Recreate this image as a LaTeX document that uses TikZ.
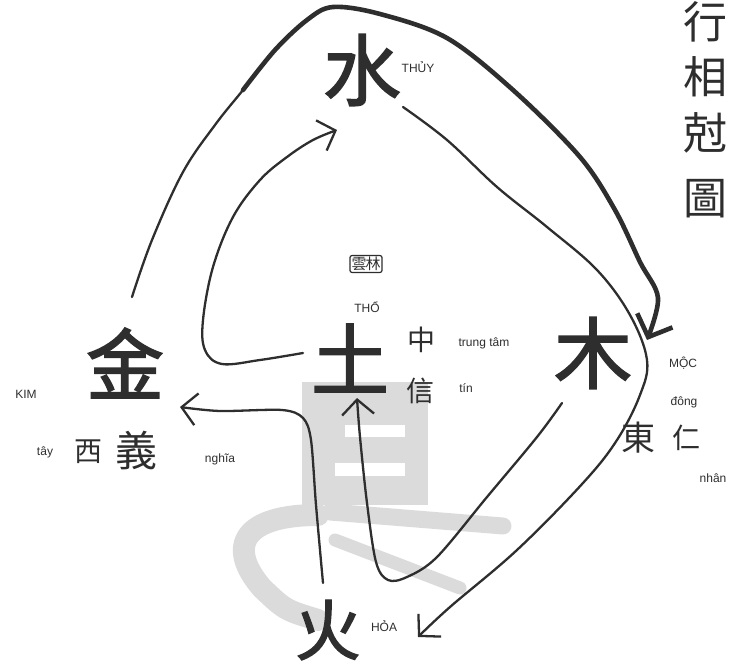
\documentclass[tikz,border=0pt]{standalone}
\usepackage{fontspec}
\setmainfont{Liberation Serif}
\setsansfont{Liberation Sans}
\newfontfamily\cjk{Noto Sans CJK TC}
\newfontfamily\cjkbrush[FakeBold=2]{Noto Sans CJK TC}
\usetikzlibrary{arrows.meta}
\colorlet{ink}{black!82}
\colorlet{wm}{black!14}
\tikzset{
  elem/.style={font=\cjkbrush\fontsize{78}{78}\selectfont, text=ink, inner sep=0pt},
  hand/.style={font=\cjk\fontsize{28}{28}\selectfont, text=ink, inner sep=0pt},
  lab/.style={font=\sffamily\fontsize{12}{12}\selectfont, text=ink, inner sep=0pt},
  pen/.style={draw=ink, line width=2.3pt, line cap=round, line join=round},
  heavypen/.style={draw=ink, line width=4.6pt, line cap=round, line join=round},
  barb/.style={-{Straight Barb[length=15pt,width=32pt]}}
}

\begin{document}
\begin{tikzpicture}[x=1pt,y=-1pt]
\useasboundingbox (0,0) rectangle (729,663);

% big grey character behind
\fill[wm] (302,382) rectangle (428,505);
\fill[white] (345,425) rectangle (405,437);
\fill[white] (335,463) rectangle (405,476);
\draw[wm, line width=22pt, line cap=round] (318,515) .. controls (245,515) and (225,545) .. (262,588) .. controls (285,610) .. (318,620);
\draw[wm, line width=17pt, line cap=round] (330,512) -- (503,526);
\draw[wm, line width=13pt, line cap=round] (335,540) -- (460,588);

% five elements
\node[elem] (shui) at (362,70) {水};
\node[lab] (shuiL) at (418,67) {THỦY};
\node[elem] (jin) at (125,363) {金};
\node[lab] (jinL) at (26,394) {KIM};
\node[elem] (tu) at (350,358) {土};
\node[lab] (tuL) at (367,307) {THỔ};
\node[elem] (mu) at (593,353) {木};
\node[lab] (muL) at (683,363) {MỘC};
\node[elem, font=\cjkbrush\fontsize{66}{66}\selectfont] (huo) at (328,630) {火};
\node[lab] (huoL) at (384,626) {HỎA};

% seal
\node[draw=ink, line width=1.2pt, rounded corners=2pt, inner sep=1.5pt,
  font=\cjk\fontsize{15}{15}\selectfont, text=ink] (seal) at (366,264) {雲\kern-1pt林};

% small words
\node[hand] (zhong) at (421,340) {中};
\node[lab] (zhongL) at (484,343) {trung tâm};
\node[hand] (xin) at (420,391) {信};
\node[lab] (xinL) at (466,388) {tín};
\node[lab] (dongL) at (684,402) {đông};
\node[hand, font=\cjk\fontsize{34}{34}\selectfont] (dong) at (638,438) {東};
\node[hand] (ren) at (686,438) {仁};
\node[lab] (renL) at (713,478) {nhân};
\node[lab] (xiL) at (45,452) {tây};
\node[hand] (xi) at (88,452) {西};
\node[hand, font=\cjk\fontsize{42}{42}\selectfont] (yi) at (136,450) {義};
\node[lab] (yiL) at (220,459) {nghĩa};

% title column
\foreach \n/\c/\y in {t1/行/22, t2/相/77, t3/尅/133, t4/圖/199}
  \node[hand, font=\cjk\fontsize{44}{44}\selectfont] (\n) at (705,\y) {\c};

% ends of the strokes
\coordinate (jinOut) at (132,297);
\coordinate (muIn) at (647,340);
\coordinate (tuOut) at (303,353);
\coordinate (shuiIn) at (337,130);
\coordinate (huoOut) at (323,583);
\coordinate (jinIn) at (180,407);
\coordinate (shuiOut) at (403,107);
\coordinate (huoIn) at (418,637);
\coordinate (muOut) at (562,403);
\coordinate (tuIn) at (357,398);

% jin -> mu over the top
\draw[pen] plot[smooth, tension=0.6] coordinates {(jinOut) (152,240) (183,172) (215,125) (243,90) (275,50)};
\draw[heavypen, -{Straight Barb[length=18pt,width=38pt]}] plot[smooth, tension=0.55] coordinates {(243,90) (275,50) (307,20) (333,7) (380,14) (447,38) (513,90) (580,157) (615,210) (640,262) (658,298) (muIn)};
% tu -> shui
\draw[pen, barb] plot[smooth, tension=0.6] coordinates {(tuOut) (260,360) (222,364) (205,350) (203,320) (213,267) (233,217) (260,180) (287,157) (313,140) (shuiIn)};
% huo -> jin
\draw[pen, barb] plot[smooth, tension=0.5] coordinates {(huoOut) (316,505) (311,440) (303,418) (282,410) (220,411) (jinIn)};
% shui -> huo
\draw[pen, barb] plot[smooth, tension=0.6] coordinates {(shuiOut) (447,140) (497,187) (547,227) (597,270) (630,315) (647,360) (640,395) (617,440) (583,483) (517,550) (450,607) (huoIn)};
% mu -> tu
\draw[pen, barb] plot[smooth, tension=0.55] coordinates {(muOut) (537,437) (487,497) (437,557) (407,577) (388,580) (376,562) (367,503) (360,437) (tuIn)};
\end{tikzpicture}
\end{document}
